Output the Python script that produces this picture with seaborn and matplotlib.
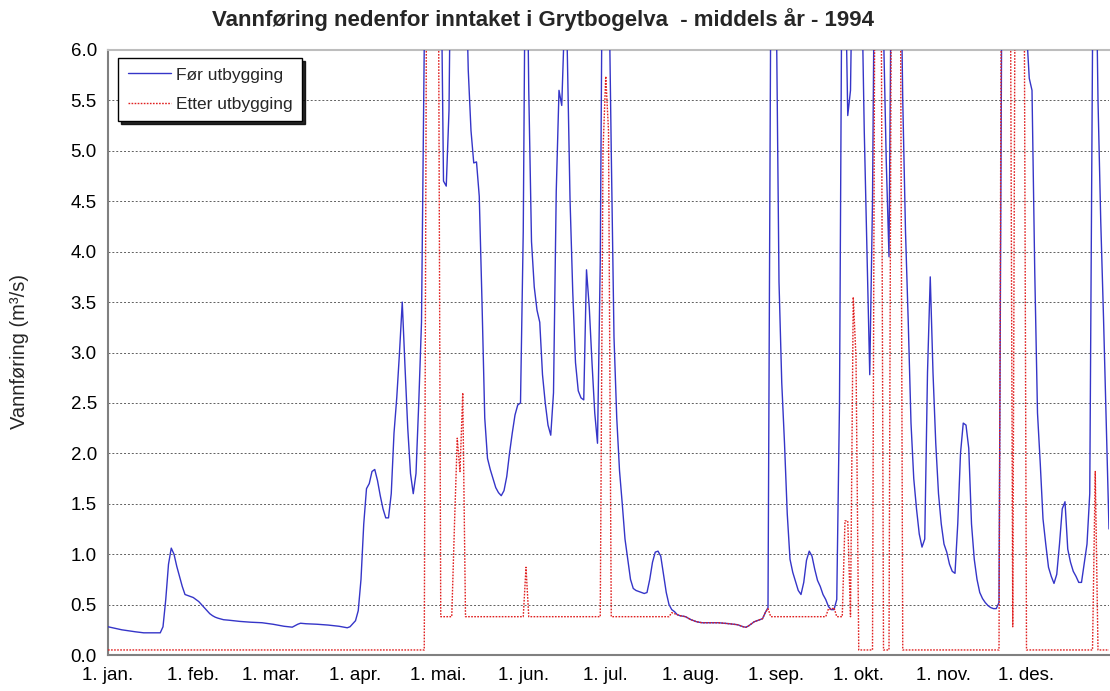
import numpy as np
import matplotlib
matplotlib.use("Agg")
import matplotlib.pyplot as plt
import seaborn as sns

# Day of year (0 = 1. jan.) and discharge in m3/s
foer_dag = [0, 5, 10, 13, 19, 20, 21, 22, 23, 24, 25, 26, 27, 28, 30, 31, 32, 33, 34, 35,
            36, 37, 38, 39, 40, 42, 44, 48, 52, 56, 60, 62, 64, 67, 68, 69, 70, 72, 76, 80,
            84, 87, 88, 89, 90, 91, 92, 93, 94, 95, 96, 97, 98, 99, 100, 101, 102, 103, 104, 105,
            106, 107, 108, 109, 110, 111, 112, 113, 114, 115, 116, 117, 118, 119, 120, 121, 122, 123, 124, 125,
            126, 127, 128, 129, 130, 131, 132, 133, 134, 135, 136, 137, 138, 139, 140, 141, 142, 143, 144, 145,
            146, 147, 148, 149, 150, 151, 152, 153, 154, 155, 156, 157, 158, 159, 160, 161, 162, 163, 164, 165,
            166, 167, 168, 169, 170, 171, 172, 173, 174, 175, 176, 177, 178, 179, 180, 181, 182, 183, 184, 185,
            186, 187, 188, 189, 190, 191, 192, 193, 194, 195, 196, 197, 198, 199, 200, 201, 202, 203, 204, 205,
            206, 207, 208, 210, 212, 214, 216, 222, 226, 229, 230, 231, 232, 233, 234, 235, 236, 237, 238, 239,
            240, 241, 242, 243, 244, 245, 246, 247, 248, 249, 250, 251, 252, 253, 254, 255, 256, 257, 258, 259,
            260, 261, 262, 263, 264, 265, 266, 267, 268, 269, 270, 271, 272, 273, 274, 275, 276, 277, 278, 279,
            280, 281, 282, 283, 284, 285, 286, 287, 288, 289, 290, 291, 292, 293, 294, 295, 296, 297, 298, 299,
            300, 301, 302, 303, 304, 305, 306, 307, 308, 309, 310, 311, 312, 313, 314, 315, 316, 317, 318, 319,
            320, 321, 322, 323, 324, 325, 326, 328, 330, 332, 333, 334, 335, 336, 337, 338, 339, 340, 341, 342,
            343, 344, 345, 346, 347, 348, 349, 350, 351, 352, 353, 354, 355, 356, 357, 358, 359, 360, 361, 362,
            363, 364]
foer_verdi = [0.28, 0.25, 0.23, 0.22, 0.22, 0.28, 0.55, 0.90, 1.06, 1.00, 0.88, 0.78, 0.68, 0.60, 0.58, 0.57, 0.55, 0.53, 0.50, 0.47,
              0.44, 0.41, 0.39, 0.375, 0.365, 0.35, 0.345, 0.333, 0.325, 0.32, 0.305, 0.295, 0.285, 0.276, 0.29, 0.305, 0.315, 0.31, 0.305, 0.297,
              0.285, 0.27, 0.28, 0.31, 0.34, 0.44, 0.75, 1.30, 1.65, 1.70, 1.82, 1.84, 1.73, 1.58, 1.45, 1.36, 1.36, 1.60, 2.20, 2.55,
              3.00, 3.50, 2.86, 2.25, 1.80, 1.60, 1.80, 2.50, 3.30, 6.10, 8.5, 10.5, 11.0, 10.0, 8.5, 7.2, 4.70, 4.65, 5.40, 8.0,
              10.0, 11.0, 10.5, 9.0, 7.0, 5.80, 5.20, 4.88, 4.89, 4.55, 3.50, 2.35, 1.95, 1.84, 1.75, 1.66, 1.61, 1.58, 1.63, 1.77,
              2.00, 2.20, 2.38, 2.48, 2.50, 4.20, 8.0, 5.60, 4.10, 3.65, 3.42, 3.30, 2.78, 2.50, 2.28, 2.18, 2.60, 4.60, 5.60, 5.45,
              6.30, 6.00, 4.53, 3.60, 2.90, 2.62, 2.55, 2.53, 3.82, 3.45, 2.90, 2.40, 2.10, 3.90, 8.0, 9.0, 7.0, 5.00, 3.15, 2.35,
              1.83, 1.50, 1.15, 0.95, 0.75, 0.66, 0.64, 0.63, 0.62, 0.61, 0.62, 0.75, 0.92, 1.02, 1.03, 0.98, 0.80, 0.62, 0.50, 0.45,
              0.43, 0.40, 0.39, 0.38, 0.35, 0.33, 0.32, 0.32, 0.31, 0.30, 0.29, 0.28, 0.275, 0.29, 0.31, 0.33, 0.34, 0.35, 0.36, 0.42,
              0.47, 6.5, 9.0, 6.5, 3.70, 2.70, 2.10, 1.40, 0.95, 0.82, 0.73, 0.64, 0.60, 0.72, 0.94, 1.03, 0.98, 0.85, 0.74, 0.68,
              0.60, 0.55, 0.48, 0.45, 0.45, 0.55, 2.50, 7.5, 7.0, 5.35, 5.60, 7.5, 9.0, 9.0, 6.8, 5.20, 4.00, 2.78, 4.50, 8.0,
              9.0, 8.0, 6.20, 4.90, 3.95, 7.5, 9.0, 9.0, 7.5, 5.50, 4.20, 3.30, 2.30, 1.75, 1.45, 1.20, 1.07, 1.15, 2.80, 3.75,
              2.80, 2.10, 1.60, 1.30, 1.10, 1.02, 0.90, 0.83, 0.81, 1.30, 2.00, 2.30, 2.28, 2.05, 1.30, 0.95, 0.75, 0.62, 0.56, 0.52,
              0.49, 0.47, 0.46, 0.46, 0.52, 6.5, 9.0, 11.0, 10.0, 9.0, 8.0, 6.2, 5.72, 5.60, 3.80, 2.40, 1.90, 1.35, 1.10, 0.87,
              0.78, 0.71, 0.80, 1.10, 1.45, 1.52, 1.05, 0.92, 0.83, 0.78, 0.72, 0.72, 0.91, 1.10, 1.60, 6.0, 7.5, 5.50, 4.30, 3.35,
              2.30, 1.25]

etter_dag = [0, 115, 116, 120, 121, 125, 126, 127, 128, 129, 130, 151, 152, 153, 179, 180, 181, 182, 183, 204,
             205, 206, 207, 208, 210, 212, 214, 216, 222, 226, 229, 230, 231, 232, 233, 234, 235, 236, 237, 238,
             239, 240, 241, 261, 262, 263, 264, 265, 267, 268, 269, 270, 271, 272, 273, 278, 279, 281, 282, 284,
             285, 288, 289, 324, 325, 328, 329, 330, 333, 334, 358, 359, 360, 364]
etter_verdi = [0.05, 0.05, 8.0, 8.0, 0.38, 0.38, 1.30, 2.15, 1.82, 2.60, 0.38, 0.38, 0.87, 0.38, 0.38, 5.00, 5.74, 5.20, 0.38, 0.38,
               0.42, 0.41, 0.40, 0.39, 0.38, 0.35, 0.33, 0.32, 0.32, 0.31, 0.30, 0.29, 0.28, 0.275, 0.29, 0.31, 0.33, 0.34, 0.35, 0.36,
               0.42, 0.46, 0.38, 0.38, 0.46, 0.45, 0.47, 0.38, 0.38, 1.33, 1.33, 0.38, 3.55, 2.95, 0.05, 0.05, 8.0, 8.0, 0.05, 0.05,
               8.0, 8.0, 0.05, 0.05, 8.0, 8.0, 0.28, 8.0, 8.0, 0.05, 0.05, 1.82, 0.05, 0.05]

maaned_dag = [0, 31, 59, 90, 120, 151, 181, 212, 243, 273, 304, 334]
maaned_navn = ["1. jan.", "1. feb.", "1. mar.", "1. apr.", "1. mai.", "1. jun.",
               "1. jul.", "1. aug.", "1. sep.", "1. okt.", "1. nov.", "1. des."]

sns.set_style("white")
plt.rcParams['font.family'] = ['Liberation Sans', 'DejaVu Sans']

fig = plt.figure(figsize=(11.1, 6.91), dpi=100)
ax = fig.add_axes([108 / 1110, 36 / 691, 1001 / 1110, 605 / 691])

sns.lineplot(x=foer_dag, y=foer_verdi, ax=ax, color='#3535c8', linewidth=1.0,
             label='Før utbygging', zorder=3)
sns.lineplot(x=etter_dag, y=etter_verdi, ax=ax, color='#e02020', linewidth=1.0,
             linestyle=(0, (1.2, 1.0)), label='Etter utbygging', zorder=4)

ax.set_xlim(0, 364)
ax.set_ylim(0, 6)
ax.set_xticks(maaned_dag)
ax.set_xticklabels(maaned_navn)
ax.set_yticks(np.arange(0, 6.01, 0.5))
ax.set_yticklabels([f"{v:.1f}" for v in np.arange(0, 6.01, 0.5)])
ax.set_xlabel('')
ax.set_ylabel('')

ax.yaxis.grid(True, color='#606060', linestyle=(0, (2, 2)), linewidth=0.7)
ax.xaxis.grid(False)
ax.set_axisbelow(True)

for side in ['left', 'bottom']:
    ax.spines[side].set_color('#808080')
    ax.spines[side].set_linewidth(1.5)
ax.spines['top'].set_color('#bdbdbd')
ax.spines['top'].set_linewidth(1.5)
ax.spines['right'].set_visible(False)

ax.tick_params(axis='both', direction='out', length=5, width=1, color='#808080',
               labelsize=13.5, labelcolor='black', pad=3)
ax.tick_params(axis='x', pad=4)

leg = ax.legend(loc='upper left', bbox_to_anchor=(0.01, 0.987), borderaxespad=0,
                fontsize=12.5, frameon=True, fancybox=False, edgecolor='black',
                framealpha=1, shadow={'color': 'black', 'alpha': 0.85},
                handlelength=2.5, handletextpad=0.3, labelspacing=0.8, borderpad=0.55)
leg.get_frame().set_linewidth(1.0)

fig.text(543 / 1110, 1 - 20 / 691, 'Vannføring nedenfor inntaket i Grytbogelva  - middels år - 1994',
         ha='center', va='center', fontsize=16, fontweight='bold')
fig.text(20 / 1110, 1 - 352 / 691, 'Vannføring (m³/s)', rotation=90,
         ha='center', va='center', fontsize=14.5)

plt.savefig('out.png', dpi=100)
plt.close()
